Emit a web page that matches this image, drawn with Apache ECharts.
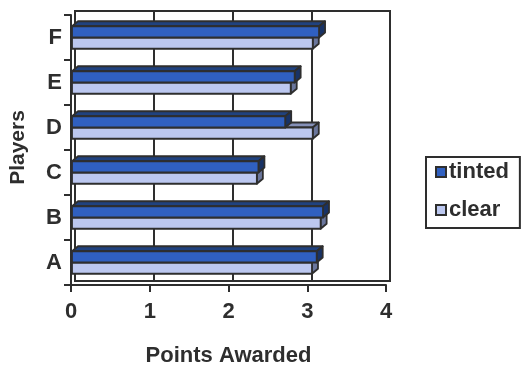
<!DOCTYPE html>
<html>
<head>
<meta charset="utf-8">
<style>
  html, body { margin: 0; padding: 0; background: #ffffff; }
  #chart { width: 523px; height: 366px; }
</style>
<script src="https://cdn.jsdelivr.net/npm/echarts@6/dist/echarts.min.js"></script>
</head>
<body>
<div id="chart"></div>
<script>
// Players and their awarded points for the two lens types
const players = ['A', 'B', 'C', 'D', 'E', 'F'];
const tinted = [3.12, 3.20, 2.38, 2.72, 2.84, 3.15];
const clear = [3.06, 3.17, 2.36, 3.07, 2.79, 3.07];
const xTicks = [0, 1, 2, 3, 4];

const FONT = '"Liberation Sans", Arial, sans-serif';
const INK = '#2e2e2e';

// front plane and the back wall of the pseudo-3D box
const FRONT = { left: 71, top: 15, width: 315, height: 270 };
const WALL_DX = 4, WALL_DY = 4;
const BAR_DX = 6, BAR_DY = 5;

const styles = {
  tinted: { front: '#3060c0', top: '#20427f', side: '#183265' },
  clear: { front: '#bcc8f0', top: '#8590b8', side: '#6a769c' }
};

function prism(name, upper) {
  const s = styles[name];
  return function (params, api) {
    const v = api.value(0);
    const c = api.value(1);
    const base = api.coord([0, c]);
    const end = api.coord([v, c]);
    const band = api.size([0, 1])[1];
    const h = band * 0.25;
    const y0 = upper ? end[1] - h : end[1];
    const y1 = y0 + h;
    const x0 = base[0] + 1, x1 = end[0];
    const line = { stroke: INK, lineWidth: 1.8, lineJoin: 'round' };
    return {
      type: 'group',
      children: [
        { type: 'polygon', shape: { points: [[x0, y0], [x1, y0], [x1 + BAR_DX, y0 - BAR_DY], [x0 + BAR_DX, y0 - BAR_DY]] },
          style: Object.assign({ fill: s.top }, line) },
        { type: 'polygon', shape: { points: [[x1, y0], [x1 + BAR_DX, y0 - BAR_DY], [x1 + BAR_DX, y1 - BAR_DY], [x1, y1]] },
          style: Object.assign({ fill: s.side }, line) },
        { type: 'rect', shape: { x: x0, y: y0, width: x1 - x0, height: y1 - y0 },
          style: Object.assign({ fill: s.front }, line) }
      ]
    };
  };
}

const chart = echarts.init(document.getElementById('chart'), null, { renderer: 'canvas' });

chart.setOption({
  animation: false,
  backgroundColor: '#ffffff',
  textStyle: { fontFamily: FONT },
  legend: {
    orient: 'vertical',
    left: 426,
    top: 157,
    data: ['tinted', 'clear'],
    icon: 'rect',
    itemWidth: 10,
    itemHeight: 10,
    itemGap: 16,
    padding: [4, 11, 7, 9],
    borderColor: INK,
    borderWidth: 2,
    textStyle: { fontFamily: FONT, fontWeight: 'bold', fontSize: 22, color: INK, padding: [0, 0, 0, -2] }
  },
  grid: [
    { left: FRONT.left, top: FRONT.top, width: FRONT.width, height: FRONT.height,
      containLabel: false, outerBoundsMode: 'none' },
    { left: FRONT.left + WALL_DX, top: FRONT.top - WALL_DY, width: FRONT.width, height: FRONT.height,
      containLabel: false, outerBoundsMode: 'none',
      show: true, borderColor: INK, borderWidth: 2, z: 0 }
  ],
  xAxis: [
    {
      gridIndex: 0, type: 'value', min: xTicks[0], max: xTicks[xTicks.length - 1], interval: 1,
      axisLine: { show: true, onZero: false, lineStyle: { color: INK, width: 2 } },
      axisTick: { show: true, length: 7, lineStyle: { color: INK, width: 2 } },
      splitLine: { show: false },
      axisLabel: { margin: 16, fontSize: 22, fontWeight: 'bold', color: INK, fontFamily: FONT },
      name: 'Points Awarded', nameLocation: 'middle', nameGap: 60,
      nameTextStyle: { fontSize: 22, fontWeight: 'bold', color: INK, fontFamily: FONT }
    },
    {
      gridIndex: 1, type: 'value', min: xTicks[0], max: xTicks[xTicks.length - 1], interval: 1,
      axisLine: { show: false }, axisTick: { show: false }, axisLabel: { show: false },
      splitLine: { show: true, lineStyle: { color: INK, width: 2 } }
    }
  ],
  yAxis: [
    {
      gridIndex: 0, type: 'category', data: players, boundaryGap: true,
      axisLine: { show: true, lineStyle: { color: INK, width: 2 } },
      axisTick: { show: true, length: 7, lineStyle: { color: INK, width: 2 } },
      axisLabel: { margin: 9, fontSize: 22, fontWeight: 'bold', color: INK, fontFamily: FONT },
      name: 'Players', nameLocation: 'middle', nameGap: 42, nameRotate: 90,
      nameTextStyle: { fontSize: 21, fontWeight: 'bold', color: INK, fontFamily: FONT, padding: [0, 0, 0, 5] }
    },
    {
      gridIndex: 1, type: 'category', data: players,
      axisLine: { show: false }, axisTick: { show: false }, axisLabel: { show: false }, splitLine: { show: false }
    }
  ],
  series: [
    {
      name: 'clear', type: 'custom', xAxisIndex: 0, yAxisIndex: 0, z: 3,
      itemStyle: { color: styles.clear.front, borderColor: INK, borderWidth: 1 },
      encode: { x: 0, y: 1 },
      renderItem: prism('clear', false),
      data: clear.map((v, i) => [v, i])
    },
    {
      name: 'tinted', type: 'custom', xAxisIndex: 0, yAxisIndex: 0, z: 4,
      itemStyle: { color: styles.tinted.front, borderColor: INK, borderWidth: 1 },
      encode: { x: 0, y: 1 },
      renderItem: prism('tinted', true),
      data: tinted.map((v, i) => [v, i])
    }
  ]
});
</script>
</body>
</html>
